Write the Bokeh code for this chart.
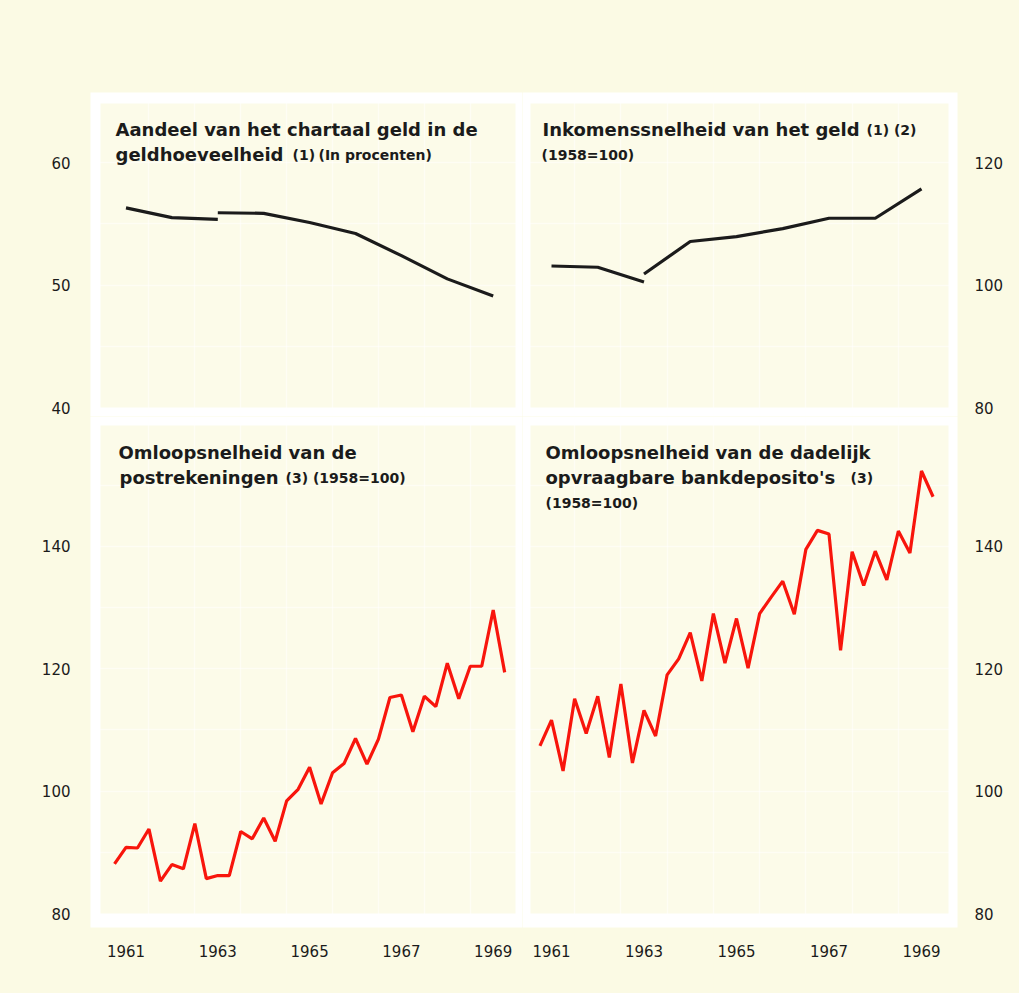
from bokeh.plotting import figure
from bokeh.layouts import gridplot
from bokeh.models import Range1d, LinearAxis, FixedTicker, Label, Grid
from bokeh.embed import file_html
from bokeh.resources import INLINE

# ---------------- data ----------------
years = [1961, 1962, 1963, 1964, 1965, 1966, 1967, 1968, 1969]
tick_years = [1961, 1963, 1965, 1967, 1969]

# Aandeel chartaal geld in geldhoeveelheid (%), two series (break in 1963)
cash_share_old_years = [1961, 1962, 1963]
cash_share_old = [56.3, 55.5, 55.35]
cash_share_new_years = [1963, 1964, 1965, 1966, 1967, 1968, 1969]
cash_share_new = [55.9, 55.85, 55.1, 54.2, 52.4, 50.5, 49.1]

# Inkomenssnelheid van het geld (1958=100)
income_velocity_old_years = [1961, 1962, 1963]
income_velocity_old = [103.1, 102.9, 100.5]
income_velocity_new_years = [1963, 1964, 1965, 1966, 1967, 1968, 1969]
income_velocity_new = [101.8, 107.1, 107.9, 109.2, 110.9, 110.9, 115.7]

# quarterly series 1961-I .. 1969-III
quarter_years = [1961] * 4 + [1962] * 4 + [1963] * 4 + [1964] * 4 + [1965] * 4 + \
    [1966] * 4 + [1967] * 4 + [1968] * 4 + [1969] * 3
quarter_nums = [1, 2, 3, 4] * 8 + [1, 2, 3]

giro_velocity = [88.1, 90.8, 90.7, 93.8, 85.3, 88.0, 87.3, 94.7, 85.7, 86.2, 86.2, 93.4,
                 92.2, 95.6, 91.8, 98.4, 100.3, 103.9, 97.9, 103.0, 104.5, 108.6, 104.4, 108.5,
                 115.3, 115.7, 109.7, 115.5, 113.8, 120.9, 115.1, 120.4, 120.4, 129.6, 119.4]
deposit_velocity = [107.4, 111.6, 103.3, 115.1, 109.4, 115.5, 105.5, 117.5, 104.6, 113.2, 109.0, 119.0,
                    121.6, 125.9, 118.0, 129.0, 120.9, 128.2, 120.1, 129.0, 131.7, 134.3, 128.9, 139.5,
                    142.6, 142.0, 123.0, 139.1, 133.6, 139.2, 134.5, 142.5, 138.9, 152.3, 148.1]

quarter_t = [y - 0.5 + q / 4.0 for y, q in zip(quarter_years, quarter_nums)]

# ---------------- style ----------------
PAGE = "#fbfae4"
PANEL = "#fcfbe9"
FRAME = "#ffffff"
INK = "#1b1b1b"
RED = "#f8150c"
FONT = "DejaVu Sans"

COLS = {"L": dict(left=90, w=432, t0=1961.0, px0=125.5, ppy=45.9, pl=100, pr=515),
        "R": dict(left=522, w=435, t0=1961.0, px0=551.0, ppy=46.25, pl=530, pr=948)}
ROWS = {"T": dict(top=92, h=324, pt=103, pb=407),
        "B": dict(top=416, h=511, pt=425, pb=913)}


def make_panel(col, row, y_anchor, y_px, y_ppu, hgrid):
    c = COLS[col]
    r = ROWS[row]
    x0 = c["t0"] - (c["px0"] - c["left"]) / c["ppy"]
    x1 = x0 + c["w"] / c["ppy"]
    y1 = y_anchor + (y_px - r["top"]) / y_ppu
    y0 = y1 - r["h"] / y_ppu
    p = figure(frame_width=c["w"], frame_height=r["h"],
               x_range=Range1d(x0, x1), y_range=Range1d(y0, y1),
               x_axis_type=None, y_axis_type=None,
               output_backend="svg", toolbar_location=None)
    p.min_border_left = 90 if col == "L" else 0
    p.min_border_right = 62 if col == "R" else 0
    p.min_border_top = 92 if row == "T" else 0
    p.min_border_bottom = 66 if row == "B" else 0
    p.background_fill_color = FRAME
    p.border_fill_color = PAGE
    p.outline_line_color = None

    def fx(px):
        return x0 + (px - c["left"]) / c["ppy"]

    def fy(py):
        return y1 - (py - r["top"]) / y_ppu

    p.quad(left=[fx(c["pl"])], right=[fx(c["pr"])], bottom=[fy(r["pb"])], top=[fy(r["pt"])],
           fill_color=PANEL, line_color=None, level="image")
    p.add_layout(Grid(dimension=0, ticker=FixedTicker(ticks=[y + 0.5 for y in years[:-1]]),
                      grid_line_color="white", grid_line_alpha=0.5, grid_line_width=1.5))
    p.add_layout(Grid(dimension=1, ticker=FixedTicker(ticks=hgrid),
                      grid_line_color="white", grid_line_alpha=0.5, grid_line_width=1.5))
    return p, fx, fy


def style_axis(ax, standoff):
    ax.axis_line_color = None
    ax.major_tick_line_color = None
    ax.minor_tick_line_color = None
    ax.major_label_text_font = FONT
    ax.major_label_text_font_size = "15px"
    ax.major_label_text_color = INK
    ax.major_label_standoff = standoff


def add_text(p, fx, fy, px, py, text, size, bold=True):
    p.add_layout(Label(x=fx(px), y=fy(py), text=text, text_font=FONT,
                       text_font_size=f"{size}px",
                       text_font_style="bold" if bold else "normal",
                       text_color=INK, text_baseline="alphabetic", text_align="left"))


# ---- top-left ----
tl, fx, fy = make_panel("L", "T", 60, 162, 12.25, [45, 50, 55, 60])
tl.line(cash_share_old_years, cash_share_old, line_color=INK, line_width=3.2)
tl.line(cash_share_new_years, cash_share_new, line_color=INK, line_width=3.2)
ax = LinearAxis(ticker=FixedTicker(ticks=[40, 50, 60]))
style_axis(ax, 14)
tl.add_layout(ax, "left")
add_text(tl, fx, fy, 115, 129, "Aandeel van het chartaal geld in de", 18)
add_text(tl, fx, fy, 115, 154, "geldhoeveelheid", 18)
add_text(tl, fx, fy, 292, 154, "(1)", 14)
add_text(tl, fx, fy, 318, 154, "(In procenten)", 14)

# ---- top-right ----
tr, fx, fy = make_panel("R", "T", 120, 162, 6.125, [90, 100, 110, 120])
tr.line(income_velocity_old_years, income_velocity_old, line_color=INK, line_width=3.2)
tr.line(income_velocity_new_years, income_velocity_new, line_color=INK, line_width=3.2)
ax = LinearAxis(ticker=FixedTicker(ticks=[80, 100, 120]))
style_axis(ax, 11)
tr.add_layout(ax, "right")
add_text(tr, fx, fy, 542, 129, "Inkomenssnelheid van het geld", 18)
add_text(tr, fx, fy, 866, 129, "(1) (2)", 14)
add_text(tr, fx, fy, 541, 154, "(1958=100)", 14)

# ---- bottom-left ----
bl, fx, fy = make_panel("L", "B", 80, 913, 6.12, [90, 100, 110, 120, 130, 140, 150])
bl.line(quarter_t, giro_velocity, line_color=RED, line_width=3.2)
ax = LinearAxis(ticker=FixedTicker(ticks=[80, 100, 120, 140]))
style_axis(ax, 14)
bl.add_layout(ax, "left")
axb = LinearAxis(ticker=FixedTicker(ticks=tick_years))
style_axis(axb, 11)
bl.add_layout(axb, "below")
add_text(bl, fx, fy, 118, 452, "Omloopsnelheid van de", 18)
add_text(bl, fx, fy, 119, 477, "postrekeningen", 18)
add_text(bl, fx, fy, 285, 477, "(3) (1958=100)", 14)

# ---- bottom-right ----
br, fx, fy = make_panel("R", "B", 80, 913, 6.12, [90, 100, 110, 120, 130, 140, 150])
br.line(quarter_t, deposit_velocity, line_color=RED, line_width=3.2)
ax = LinearAxis(ticker=FixedTicker(ticks=[80, 100, 120, 140]))
style_axis(ax, 11)
br.add_layout(ax, "right")
axb = LinearAxis(ticker=FixedTicker(ticks=tick_years))
style_axis(axb, 11)
br.add_layout(axb, "below")
add_text(br, fx, fy, 545, 452, "Omloopsnelheid van de dadelijk", 18)
add_text(br, fx, fy, 545, 477, "opvraagbare bankdeposito's", 18)
add_text(br, fx, fy, 850, 477, "(3)", 14)
add_text(br, fx, fy, 545, 502, "(1958=100)", 14)

p = gridplot([[tl, tr], [bl, br]], toolbar_location=None)
p.styles = {"background-color": PAGE}

open("out.html", "w").write(file_html(p, INLINE))
